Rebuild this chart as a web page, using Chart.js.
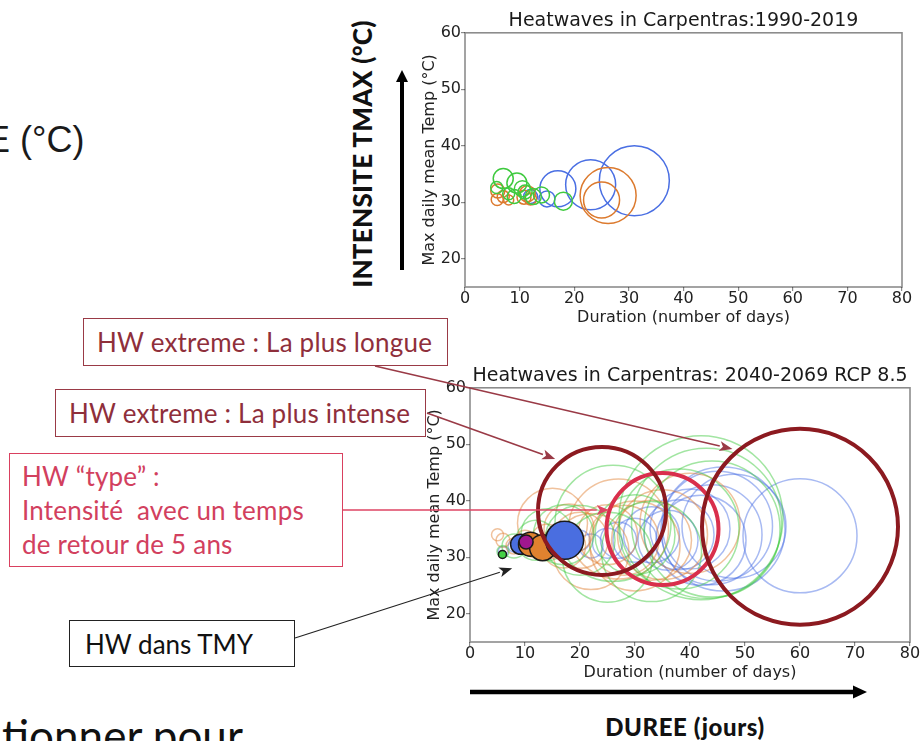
<!DOCTYPE html>
<html>
<head>
<meta charset="utf-8">
<script src="https://cdn.jsdelivr.net/npm/chart.js@4.4.1/dist/chart.umd.min.js"></script>
<style>
  html, body { margin: 0; padding: 0; background: #fff; }
  body { position: relative; width: 920px; height: 741px; overflow: hidden; font-family: Lato, sans-serif; }
  canvas.chart { position: absolute; }
  #overlay { position: absolute; left: 0; top: 0; z-index: 5; pointer-events: none; }
  .txt { position: absolute; white-space: nowrap; line-height: 1; }
  .box { position: absolute; box-sizing: border-box; display: flex; align-items: center; white-space: nowrap; font-family: Lato, sans-serif; }
  .box-dark { border: 1.5px solid #9a3a46; color: #8f2f3b; }
  .box-crimson { border: 1.5px solid #d9405f; color: #d2405e; }
  .box-black { border: 1.5px solid #222; color: #111; }
</style>
</head>
<body>

<div class="txt" style="left:-14px; top:122px; font-family:'Liberation Sans'; font-size:36px; color:#1a1a1a;">E (°C)</div>
<div class="txt" style="left:362px; top:154px; transform:translate(-50%,-50%) rotate(-90deg); font-family:Lato; font-weight:900; font-size:26px; letter-spacing:0.3px; color:#111;">INTENSITE TMAX (°C)</div>
<div class="txt" style="left:685px; top:727px; transform:translate(-50%,-50%); font-family:Lato; font-weight:900; font-size:24px; letter-spacing:0.6px; color:#111;">DUREE (jours)</div>
<div class="txt" style="left:2px; top:713px; font-family:Lato; font-size:44px; color:#111;">tionner pour</div>

<div class="box box-dark" style="left:83px; top:318px; width:365px; height:48px; padding-left:13px; font-size:26px; letter-spacing:0.2px;">HW extreme : La plus longue</div>
<div class="box box-dark" style="left:55px; top:389px; width:371px; height:48px; padding-left:13px; font-size:26px; letter-spacing:0.2px;">HW extreme : La plus intense</div>
<div class="box box-crimson" style="left:9px; top:453px; width:334px; height:114px; padding-left:12px; font-size:26px; line-height:34px; letter-spacing:0.2px; white-space:pre;">HW “type” :
Intensité  avec un temps
de retour de 5 ans</div>
<div class="box box-black" style="left:69px; top:620px; width:226px; height:47px; padding-left:15px; font-size:26px;">HW dans TMY</div>

<canvas id="past" class="chart" width="520" height="330" style="left:400px; top:0px;"></canvas>
<canvas id="future" class="chart" width="515" height="330" style="left:405px; top:355px;"></canvas>
<canvas id="overlay" width="920" height="741"></canvas>

<script>
// Axis ticks shared by both panels
const durationTicks = [0, 10, 20, 30, 40, 50, 60, 70, 80];
const tempTicks = [20, 30, 40, 50, 60];

// Heatwaves 1990-2019: [duration (days), max daily mean temp (°C), bubble radius]
const histBlue = [[31, 33.8, 35], [23, 33.1, 25], [17, 32.4, 18], [15, 30.6, 8], [12, 31.0, 7]];
const histOrange = [[26.2, 31.2, 28], [25, 30.4, 18], [6, 32, 7], [5.9, 30.5, 6], [7, 31, 6], [8, 30.4, 5],
                    [10.8, 30.9, 7], [11.4, 31.5, 8], [12, 30.6, 6]];
const histGreen = [[7, 34.2, 10], [9.5, 33.4, 10], [10.5, 32.4, 8], [5.8, 32.6, 6], [8, 31.5, 6], [9, 31, 7],
                   [11, 31.8, 7], [12.5, 31, 8], [14, 31.3, 8], [18, 30.2, 9]];

// Heatwaves 2040-2069 RCP 8.5, all simulated events
const futBlue = [[60, 33.8, 57], [46, 35, 62], [45, 35.5, 55], [48, 35.5, 52], [44, 34, 50], [42, 33, 45],
                 [40, 35, 40], [38, 34, 35], [36, 33, 30], [33, 34, 28], [30, 33, 22], [27, 33, 18],
                 [25, 32.5, 15], [22, 32, 12], [20, 33, 10], [8, 32, 6], [6, 31, 5]];
const futOrange = [[40, 36, 50], [35, 34, 45], [33, 33, 40], [30, 32, 45], [27, 35, 50], [28, 33, 35],
                   [25, 34, 30], [22, 31, 38], [20, 33, 28], [18, 35, 25], [17, 32, 22], [15, 36, 35],
                   [14, 33, 16], [12, 32, 12], [10, 33, 10], [8, 32, 8], [6, 33, 7], [5, 34, 6]];
const futGreen = [[42, 37, 82], [43, 36, 75], [44, 35, 68], [38, 35, 60], [26, 36, 58], [33, 31, 50],
                  [25, 30, 45], [30, 34, 40], [20, 33, 35], [17, 34, 30], [14, 34, 26], [12, 33, 20],
                  [8, 32, 12], [6, 31, 6]];

// Heatwaves found in the typical meteorological year (TMY)
const tmyBlue = [[17.2, 33, 19], [9.2, 32.3, 10]];
const tmyOrange = [[11, 32.3, 12], [13.2, 31.7, 13]];
const tmyPurple = [[10.2, 32.7, 7]];
const tmyGreen = [[5.9, 30.5, 4]];

// Reference events
const hwLongest = [[60, 35.4, 98]];
const hwMostIntense = [[24, 38.2, 64]];
const hwTypical = [[35, 35, 56]];

const toPoints = rows => rows.map(([x, y, r]) => ({ x, y, r }));

const AXIS_FONT = { family: 'DejaVu Sans', size: 16 };

// Plot frame drawn as a full box around the chart area
const framePlugin = {
  id: 'frame',
  afterDraw(chart) {
    const { ctx, chartArea: a } = chart;
    ctx.save();
    ctx.strokeStyle = 'rgba(0,0,0,0.45)';
    ctx.lineWidth = 1.6;
    ctx.strokeRect(a.left, a.top, a.right - a.left, a.bottom - a.top);
    ctx.restore();
  }
};

function baseOptions(title, rightPad) {
  return {
    responsive: false,
    animation: false,
    events: [],
    layout: { autoPadding: false, padding: { left: 0, right: rightPad, top: 0, bottom: 0 } },
    plugins: {
      legend: { display: false },
      tooltip: { enabled: false },
      title: {
        display: true, text: title, fullSize: false, color: '#1a1a1a',
        font: { family: 'DejaVu Sans', size: 19, weight: 'normal' },
        padding: { top: 10, bottom: 0 }
      }
    },
    scales: {
      x: {
        type: 'linear', min: 0, max: 80,
        afterBuildTicks: s => { s.ticks = durationTicks.map(v => ({ value: v })); },
        afterFit: s => { s.height = 43; s.paddingLeft = 0; s.paddingRight = 0; },
        ticks: { color: '#222', font: { ...AXIS_FONT, lineHeight: 1 }, padding: 0, maxRotation: 0 },
        grid: { drawOnChartArea: false, drawTicks: true, tickLength: 4, color: 'rgba(0,0,0,0.45)', lineWidth: 1.2 },
        border: { display: false },
        title: { display: true, text: 'Duration (number of days)', color: '#222', font: AXIS_FONT, padding: { top: 0, bottom: 3 } }
      },
      y: {
        type: 'linear', min: 15, max: 60,
        afterBuildTicks: s => { s.ticks = tempTicks.map(v => ({ value: v })); },
        afterFit: s => { s.width = 65; s.paddingTop = 0; s.paddingBottom = 0; },
        ticks: { color: '#222', font: AXIS_FONT, padding: 0 },
        grid: { drawOnChartArea: false, drawTicks: true, tickLength: 4, color: 'rgba(0,0,0,0.45)', lineWidth: 1.2 },
        border: { display: false },
        title: { display: true, text: 'Max daily mean Temp (°C)', color: '#222', font: AXIS_FONT, padding: { top: 20, bottom: 0 } }
      }
    }
  };
}

function ring(label, rows, color, width, order) {
  return { label, data: toPoints(rows), borderColor: color, backgroundColor: 'rgba(0,0,0,0)', borderWidth: width, order };
}
function disc(label, rows, fill, order) {
  return { label, data: toPoints(rows), borderColor: '#1a1a1a', backgroundColor: fill, borderWidth: 1.5, order };
}

const pastEl = document.getElementById('past');
const pastChart = new Chart(pastEl, {
  type: 'bubble',
  data: {
    datasets: [
      ring('1990-2019 A', histBlue, '#4a6fe3', 1.5, 3),
      ring('1990-2019 B', histOrange, '#dc7a2e', 1.5, 2),
      ring('1990-2019 C', histGreen, '#3fca3f', 1.5, 1)
    ]
  },
  options: baseOptions('Heatwaves in Carpentras:1990-2019', 18),
  plugins: [framePlugin]
});

const futureEl = document.getElementById('future');
const futureChart = new Chart(futureEl, {
  type: 'bubble',
  data: {
    datasets: [
      ring('2040-2069 A', futBlue, 'rgba(74,111,227,0.48)', 1.5, 12),
      ring('2040-2069 B', futOrange, 'rgba(224,128,50,0.48)', 1.5, 11),
      ring('2040-2069 C', futGreen, 'rgba(60,200,60,0.48)', 1.5, 10),
      disc('TMY blue (short)', tmyBlue.slice(1), '#4a6ee0', 9),
      disc('TMY orange', tmyOrange, '#e0822f', 8),
      disc('TMY blue (long)', tmyBlue.slice(0, 1), '#4a6ee0', 7),
      disc('TMY purple', tmyPurple, '#a0178f', 6),
      disc('TMY green', tmyGreen, '#44d044', 5),
      ring('HW type', hwTypical, '#d92f4c', 4, 3),
      ring('HW la plus intense', hwMostIntense, '#8c1a20', 4, 2),
      ring('HW la plus longue', hwLongest, '#8c1a20', 4, 1)
    ]
  },
  options: baseOptions('Heatwaves in Carpentras: 2040-2069 RCP 8.5', 10),
  plugins: [framePlugin]
});

// ---- Callout arrows, aimed at the events through the chart scales
const ov = document.getElementById('overlay').getContext('2d');

function center(chart, el, row) {
  return {
    x: el.offsetLeft + chart.scales.x.getPixelForValue(row[0]),
    y: el.offsetTop + chart.scales.y.getPixelForValue(row[1]),
    r: row[2]
  };
}
function edge(c, deg, gap) {
  const a = deg * Math.PI / 180;
  return [c.x + (c.r + gap) * Math.cos(a), c.y + (c.r + gap) * Math.sin(a)];
}
function arrow(x0, y0, x1, y1, color, width, headLen, headW) {
  const a = Math.atan2(y1 - y0, x1 - x0);
  const bx = x1 - headLen * Math.cos(a), by = y1 - headLen * Math.sin(a);
  ov.strokeStyle = color;
  ov.lineWidth = width;
  ov.beginPath(); ov.moveTo(x0, y0); ov.lineTo(bx, by); ov.stroke();
  ov.fillStyle = color;
  ov.beginPath();
  ov.moveTo(x1, y1);
  ov.lineTo(bx + headW / 2 * Math.sin(a), by - headW / 2 * Math.cos(a));
  ov.lineTo(x1 - headLen * 0.75 * Math.cos(a), y1 - headLen * 0.75 * Math.sin(a));
  ov.lineTo(bx - headW / 2 * Math.sin(a), by + headW / 2 * Math.cos(a));
  ov.closePath(); ov.fill();
}

const cLong = center(futureChart, futureEl, hwLongest[0]);
const cIntense = center(futureChart, futureEl, hwMostIntense[0]);
const cType = center(futureChart, futureEl, hwTypical[0]);
const cTmy = center(futureChart, futureEl, tmyGreen[0]);

const tLong = edge(cLong, -131, 5);
arrow(375, 366, tLong[0], tLong[1], '#9a3a46', 1.6, 13, 10);

const tIntense = edge(cIntense, -132, 6);
arrow(427, 413, tIntense[0], tIntense[1], '#9a3a46', 1.6, 13, 10);

const yType = 510;
const tTypeX = cType.x - Math.sqrt(Math.max(0, (cType.r + 1) ** 2 - (yType - cType.y) ** 2));
arrow(343, yType, tTypeX, yType, '#de4463', 1.6, 12, 10);

const tTmy = edge(cTmy, 55, 13);
arrow(295, 638, tTmy[0], tTmy[1], '#222', 1.1, 13, 10);

// Axis direction arrows
function bigArrow(x0, y0, x1, y1, width, headLen, headW) {
  const a = Math.atan2(y1 - y0, x1 - x0);
  const bx = x1 - headLen * Math.cos(a), by = y1 - headLen * Math.sin(a);
  ov.strokeStyle = '#000'; ov.lineWidth = width;
  ov.beginPath(); ov.moveTo(x0, y0); ov.lineTo(bx, by); ov.stroke();
  ov.fillStyle = '#000';
  ov.beginPath(); ov.moveTo(x1, y1);
  ov.lineTo(bx + headW / 2 * Math.sin(a), by - headW / 2 * Math.cos(a));
  ov.lineTo(bx - headW / 2 * Math.sin(a), by + headW / 2 * Math.cos(a));
  ov.closePath(); ov.fill();
}
bigArrow(402, 270, 402, 70, 4, 12, 12);
bigArrow(470, 692, 867, 692, 4.5, 14, 13);
</script>
</body>
</html>
